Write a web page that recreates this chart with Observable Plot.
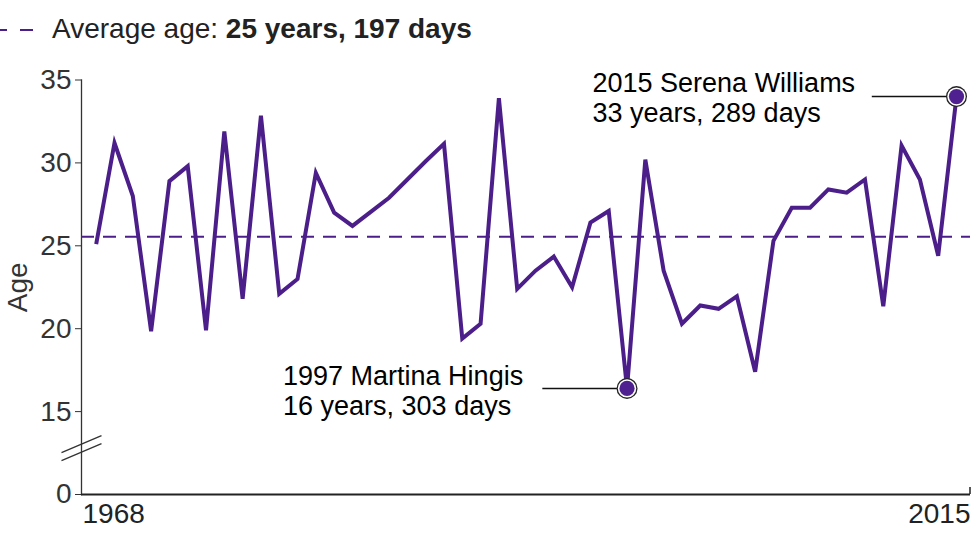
<!DOCTYPE html>
<html><head><meta charset="utf-8">
<script src="https://cdn.jsdelivr.net/npm/d3@7"></script>
<script src="https://cdn.jsdelivr.net/npm/@observablehq/plot@0.6"></script>
<style>
body{margin:0;background:#fff;font-family:"Liberation Sans",Arial,sans-serif;}
#legend{height:58px;position:relative;color:#222;font-size:28px;}
#legend svg{position:absolute;left:0;top:24px;}
#legend .txt{position:absolute;left:52px;top:13px;white-space:nowrap;}
#chart svg{display:block;}
</style></head><body>
<div id="legend"><svg width="40" height="12"><line x1="0" x2="7" y1="6" y2="6" stroke="#4b1e8a" stroke-width="2"/><line x1="20" x2="33" y1="6" y2="6" stroke="#4b1e8a" stroke-width="2"/></svg><span class="txt">Average age: <b>25 years, 197 days</b></span></div>
<div id="chart"></div>
<script>
const years = [1968,1969,1970,1971,1972,1973,1974,1975,1976,1977,1978,1979,1980,1981,1982,1983,1984,1985,1986,1987,1988,1989,1990,1991,1992,1993,1994,1995,1996,1997,1998,1999,2000,2001,2002,2003,2004,2005,2006,2007,2008,2009,2010,2011,2012,2013,2014,2015];
const ages = [25.1,31.2,28.0,19.85,28.9,29.8,19.9,31.9,21.8,32.85,22.1,23.0,29.4,27.0,26.2,27.05,27.9,29.0,30.1,31.15,19.4,20.3,33.9,22.4,23.5,24.35,22.5,26.4,27.1,16.4,30.2,23.5,20.3,21.4,21.2,21.95,17.4,25.3,27.3,27.3,28.4,28.2,29.0,21.35,31.05,29.0,24.4,34.0];
const averageAge = 25 + 197/365;
const highlightYears = [1997, 2015];
const highlightNames = ["1997 Martina Hingis", "2015 Serena Williams"];
const highlightDurations = ["16 years, 303 days", "33 years, 289 days"];
const yTickValues = [10, 15, 20, 25, 30, 35];   // 10 is drawn as the broken-axis "0"
const yTickLabels = ["0", "15", "20", "25", "30", "35"];
const xEndLabels = ["1968", "2015"];
const breakAt = 12.8;

const purple = "#4b1e8a";
const data = years.map((year, i) => ({year, age: ages[i]}));
const annot = highlightYears.map((year, i) => ({
  year, age: ages[years.indexOf(year)], label: highlightNames[i] + "\n" + highlightDurations[i]
}));
const leaderSpan = 4.6;

const breakSymbol = {
  draw(ctx) {
    ctx.moveTo(-20, 4.5); ctx.lineTo(20, -12.5);
    ctx.moveTo(-20, 12.5); ctx.lineTo(20, -4.5);
  }
};

const font = "'Liberation Sans', Arial, sans-serif";
const chart = Plot.plot({
  width: 976,
  height: 491,
  marginLeft: 81,
  marginRight: 6,
  marginTop: 21.5,
  marginBottom: 55,
  style: {fontFamily: font, background: "#fff", color: "#333"},
  x: {domain: [1968, 2015], range: [95.7, 956], axis: null},
  y: {domain: [10, 35], axis: null},
  marks: [
    Plot.frame({anchor: "left", stroke: "#333", strokeWidth: 1.3}),
    Plot.ruleY([10], {stroke: "#222", strokeWidth: 2.2}),
    Plot.ruleX([2015], {y1: 10, y2: 10.42, dx: 13.5, stroke: "#222", strokeWidth: 1.5}),
    Plot.axisY({
      ticks: yTickValues,
      tickFormat: d => yTickLabels[yTickValues.indexOf(d)],
      tickSize: 6, tickPadding: 4, fontSize: 28, fill: "#333", stroke: "#333",
      label: "Age", labelAnchor: "center", labelArrow: "none", labelOffset: 74
    }),
    Plot.dot([breakAt], {y: d => d, frameAnchor: "left", symbol: breakSymbol, r: 10, stroke: "#333", strokeWidth: 1.3, fill: "none"}),
    Plot.text([xEndLabels[0]], {frameAnchor: "bottom-left", textAnchor: "start", dx: 1, dy: 28, fontSize: 28, fill: "#222"}),
    Plot.text([xEndLabels[1]], {frameAnchor: "bottom-right", textAnchor: "end", dy: 28, fontSize: 28, fill: "#222"}),
    Plot.ruleY([averageAge], {stroke: purple, strokeWidth: 2, strokeDasharray: "13 9"}),
    Plot.line(data, {x: "year", y: "age", stroke: purple, strokeWidth: 4, strokeLinejoin: "miter", strokeMiterlimit: 4, strokeLinecap: "butt"}),
    Plot.ruleY(annot, {y: "age", x1: d => d.year - leaderSpan, x2: "year", stroke: "#111", strokeWidth: 1.5}),
    Plot.dot(annot, {x: "year", y: "age", r: 10.5, fill: "#222"}),
    Plot.dot(annot, {x: "year", y: "age", r: 9.2, fill: "#fff"}),
    Plot.dot(annot, {x: "year", y: "age", r: 7.6, fill: "#4f2090"}),
    Plot.text(annot.filter(d => d.year === 1997), {x: "year", y: "age", text: "label", textAnchor: "start", dx: -344, dy: 2, lineHeight: 1.1, fontSize: 27, fill: "#000"}),
    Plot.text(annot.filter(d => d.year === 2015), {x: "year", y: "age", text: "label", textAnchor: "start", dx: -364, dy: 1, lineHeight: 1.1, fontSize: 27, fill: "#000"})
  ]
});
document.getElementById("chart").appendChild(chart);
</script>
</body></html>
